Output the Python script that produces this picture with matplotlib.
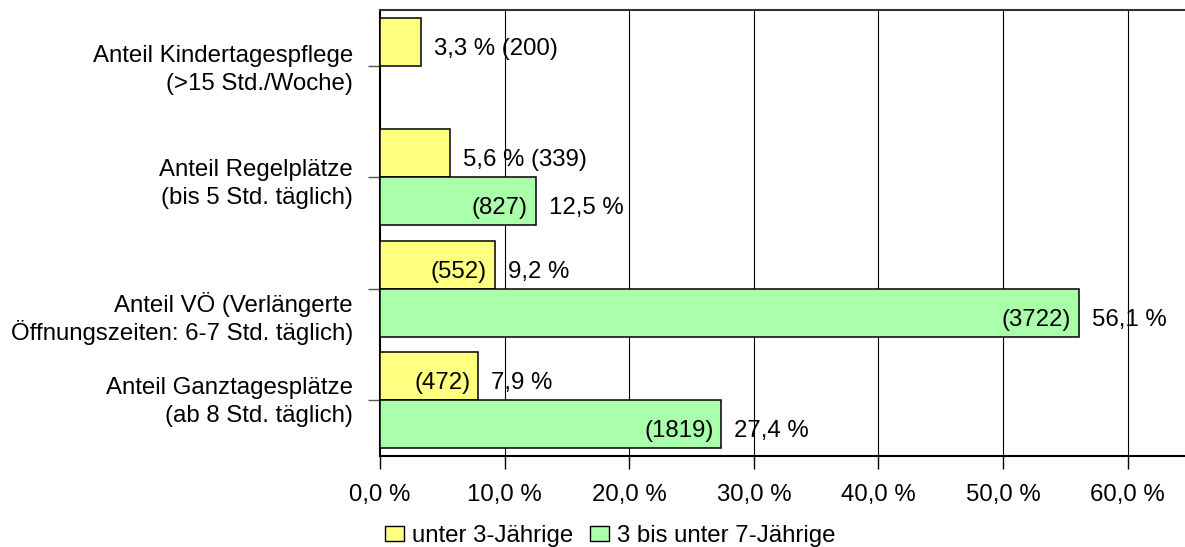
import numpy as np
import matplotlib
matplotlib.use("Agg")
import matplotlib.pyplot as plt
from matplotlib.patches import Patch

plt.rcParams['font.family'] = ['Liberation Sans', 'DejaVu Sans']

categories = ["Anteil Kindertagespflege\n(>15 Std./Woche)",
              "Anteil Regelplätze\n(bis 5 Std. täglich)",
              "Anteil VÖ (Verlängerte\nÖffnungszeiten: 6-7 Std. täglich)",
              "Anteil Ganztagesplätze\n(ab 8 Std. täglich)"]
series_names = ["unter 3-Jährige", "3 bis unter 7-Jährige"]
u3_pct = [3.3, 5.6, 9.2, 7.9]
u3_cnt = [200, 339, 552, 472]
o3_pct = [np.nan, 12.5, 56.1, 27.4]
o3_cnt = [None, 827, 3722, 1819]
xticks = [0, 10, 20, 30, 40, 50, 60]

# vertical shift (pixels, downwards) of each category label block
label_shift = [2, 4, 29, -1]

col_u3 = "#FFFF80"
col_o3 = "#AAFFAA"
FS = 17.3

fig = plt.figure(figsize=(11.85, 5.47), dpi=100)
ax = fig.add_axes([380/1185, 1-456/547, 1-380/1185, (456-10)/547])

y = np.arange(len(categories))
h = 0.43
ax.barh(y - h/2, u3_pct, height=h, color=col_u3, edgecolor="black", linewidth=1.1, zorder=3)
ax.barh(y + h/2, o3_pct, height=h, color=col_o3, edgecolor="black", linewidth=1.1, zorder=3)

def fmt(v):
    return f"{v:.1f} %".replace(".", ",")

PX = 72 / 100  # points per pixel
DY = -13 * PX  # baseline offset below bar centre
IN = -8 * PX
OUT = 13 * PX

def lab(x, yc, s, dx, ha):
    ax.annotate(s, xy=(x, yc), xytext=(dx, DY), textcoords="offset points",
                ha=ha, va="baseline", fontsize=FS, zorder=4)

for i in range(len(categories)):
    v, c = u3_pct[i], u3_cnt[i]
    yc = y[i] - h/2
    if v < 7:
        lab(v, yc, f"{fmt(v)} ({c})", OUT, "left")
    else:
        lab(v, yc, f"({c})", IN, "right")
        lab(v, yc, fmt(v), OUT, "left")
    v, c = o3_pct[i], o3_cnt[i]
    if c is not None:
        yc = y[i] + h/2
        lab(v, yc, f"({c})", IN, "right")
        lab(v, yc, fmt(v), OUT, "left")

ax.set_xlim(0, 64.6)
ax.set_ylim(len(categories) - 0.5, -0.5)
ax.set_yticks(y)
ax.set_yticklabels([])
ax.set_xticks(xticks)
ax.set_xticklabels([fmt(t) for t in xticks], fontsize=FS)
ax.tick_params(axis="y", length=9, width=1, color="#555555")
ax.tick_params(axis="x", length=9, width=1, pad=11)

# category labels, drawn line by line
ytrans = ax.get_yaxis_transform()
for i, cat in enumerate(categories):
    lines = cat.split("\n")
    for j, line in enumerate(lines):
        centre = (-14 + 28 * j) + label_shift[i]   # px below tick
        base = centre + 8.6
        ax.annotate(line, xy=(0, y[i]), xycoords=ytrans,
                    xytext=(-27 * PX, -base * PX), textcoords="offset points",
                    ha="right", va="baseline", fontsize=FS, annotation_clip=False)

for t in xticks[1:]:
    ax.axvline(t, color="black", linewidth=0.8, zorder=1)

ax.spines["right"].set_visible(False)
ax.spines["top"].set_color("#333333")
ax.spines["top"].set_linewidth(1.5)
ax.spines["left"].set_linewidth(1.5)
ax.spines["bottom"].set_linewidth(1.5)

handles = [Patch(facecolor=col_u3, edgecolor="black", linewidth=1.0),
           Patch(facecolor=col_o3, edgecolor="black", linewidth=1.0)]
fig.legend(handles, series_names, loc="center", bbox_to_anchor=(610/1185, 1-536/547),
           ncol=2, frameon=False, fontsize=FS, handlelength=0.8, handleheight=0.55,
           handletextpad=0.34, columnspacing=0.68, borderpad=0)

fig.savefig("out.png", dpi=100)
